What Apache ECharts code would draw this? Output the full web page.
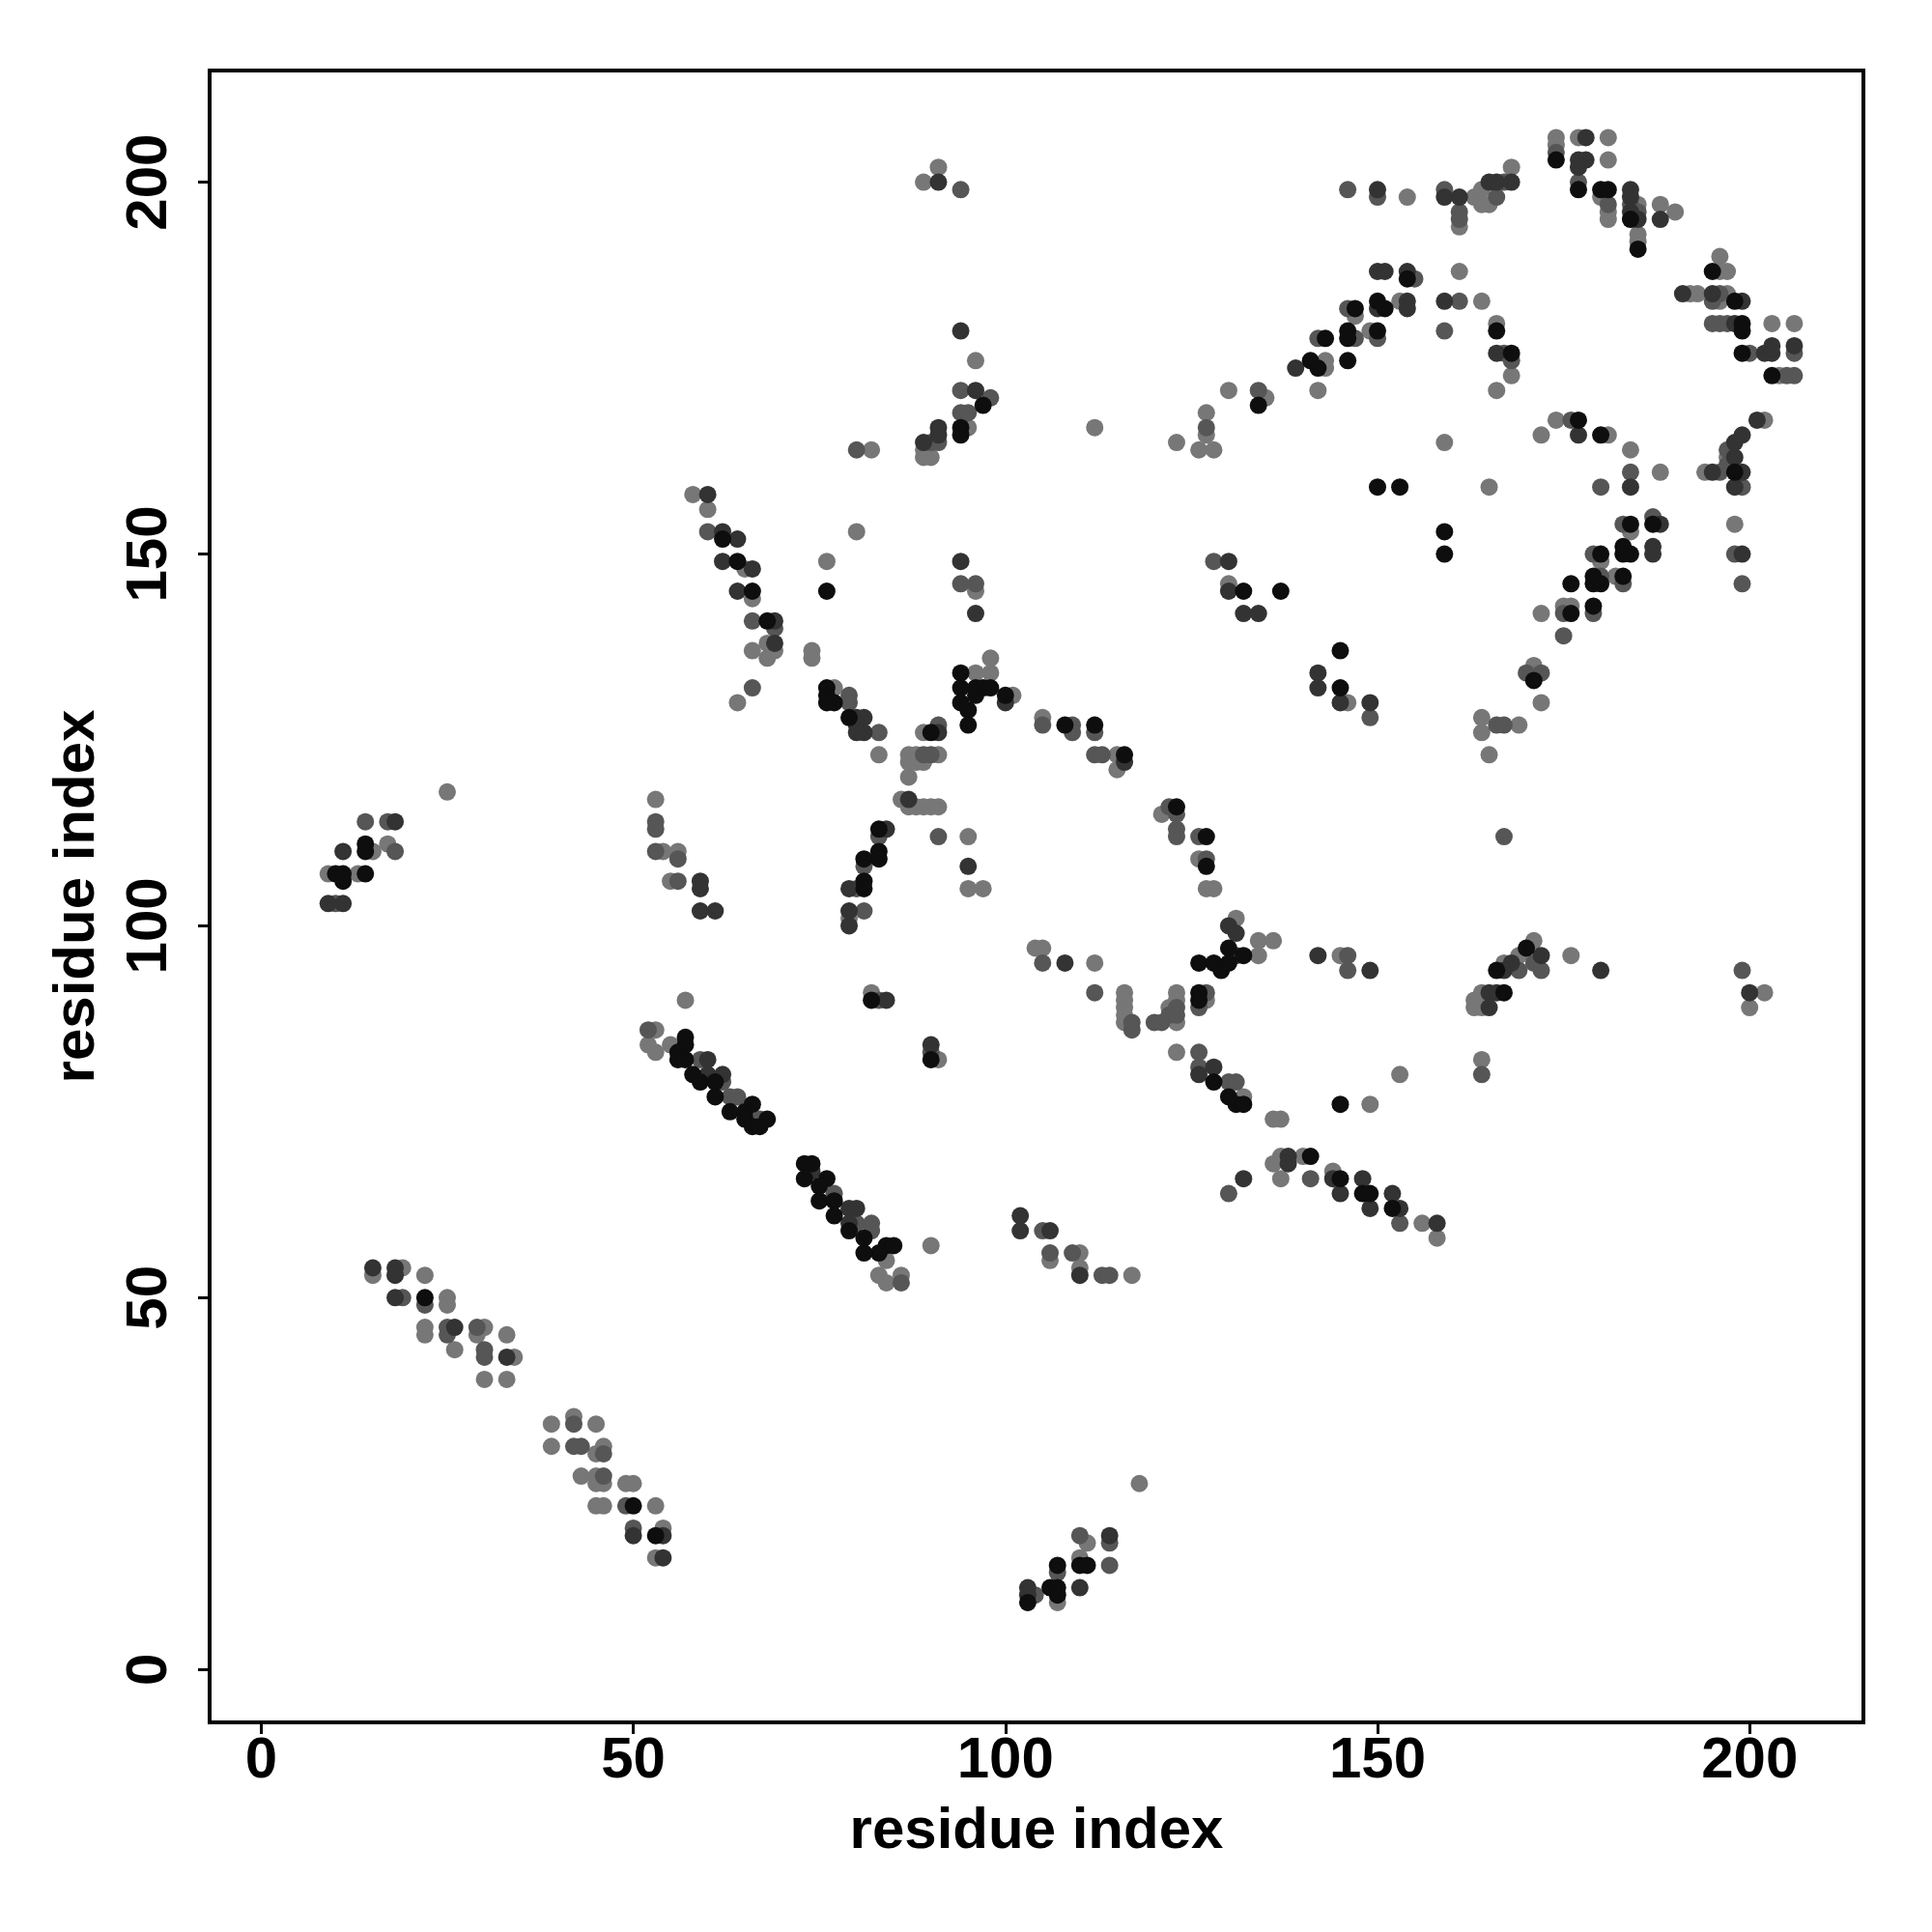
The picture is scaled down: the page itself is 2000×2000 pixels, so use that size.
<!DOCTYPE html>
<html><head><meta charset="utf-8">
<script src="https://cdn.jsdelivr.net/npm/echarts/dist/echarts.min.js"></script>
<style>html,body{margin:0;padding:0;background:#fff}#c{width:2000px;height:2000px}</style>
</head><body><div id="c"></div>
<script>
const xTicks=[0,50,100,150,200];
const yTicks=[0,50,100,150,200];

const lightPts=[
[89,200],[91,202],[96,176],[95,167],[89,164],[90,163],[89,163],[82,164],[112,167],[123,165],[127,169],[127,166],[126,164],[128,164],[130,172],[135,171],
[174,206],[174,205],[177,206],[181,206],[181,203],[180,198],[181,196],[181,195],[185,197],[185,193],[185,192],[188,197],[190,196],[154,198],[161,194],[163,198],[164,199],[168,202],[165,197],[164,197],[153,184],[147,182],[149,180],[143,176],[143,175],[142,172],[161,188],[164,184],[166,181],[168,174],[166,172],[196,190],[196,188],[197,188],[192,185],[193,185],[197,185],[196,184],[203,181],[206,181],[204,174],[174,168],[172,166],[181,166],[184,164],[188,161],[159,165],[202,168],[197,163],[194,161],
[165,159],[184,153],[180,149],[198,154],[182,147],[175,143],[176,143],[172,142],[146,130],[171,135],[172,130],[164,128],[164,126],[169,127],[165,123],
[80,153],[76,149],[96,145],[130,146],[68,138],[69,137],[68,136],[74,137],[74,136],[77,132],[83,123],[87,123],[88,123],[91,123],[87,122],[88,122],[89,122],[87,120],[89,126],[86,117],[88,116],[89,116],[90,116],[91,116],[87,116],[95,112],[95,105],[97,105],[96,134],[98,136],[98,134],[101,131],[105,128],[115,123],[115,121],[121,115],[126,109],[127,105],[128,105],
[58,158],[60,156],[65,148],[66,144],[66,137],[64,130],[25,118],[53,117],[54,110],[56,110],[55,106],[15,110],[17,111],[9,107],[13,107],
[57,90],[53,86],[52,84],[53,83],[55,84],[15,53],[19,54],[22,53],[25,50],[25,49],
[22,46],[22,45],[26,43],[30,46],[29,45],[34,42],[33,45],[30,39],[33,39],[39,33],[42,34],[45,33],[39,30],[45,29],[46,30],[43,26],[45,26],[45,25],[46,25],[49,25],[50,25],[45,22],[46,22],[53,22],[54,19],[53,15],
[118,25],[111,17],[110,15],[107,9],
[79,101],[82,91],[91,82],[104,97],[105,97],[112,95],[116,91],[116,90],[116,89],[116,88],[116,87],[122,89],[123,91],[123,90],[123,87],[127,90],[123,83],[132,77],[136,74],[137,74],[131,101],[134,98],[136,98],[134,96],[136,68],[137,69],[137,66],[140,69],[106,55],[110,56],[110,54],[117,53],[90,57],[84,55],[83,53],[84,52],[86,53],
[145,96],[153,80],[149,76],[163,90],[163,89],[164,91],[164,89],[167,95],[169,96],[171,98],[176,96],[164,82],[202,91],[200,89],[144,67],[156,60],[158,58]
];

const midPts=[
[94,199],[94,172],[98,171],[94,169],[95,169],[90,165],[91,165],[80,164],[127,167],[134,172],
[174,204],[177,200],[181,197],[184,197],[185,196],[146,199],[150,198],[159,199],[161,196],[161,195],[167,200],[166,198],[155,187],[146,183],[147,179],[150,179],[142,179],[161,184],[159,180],[167,177],[168,176],[196,185],[195,184],[195,181],[196,181],[197,181],[200,177],[206,177],[205,174],[206,174],[176,168],[184,161],[197,164],[197,162],[196,161],
[180,159],[199,159],[183,154],[187,155],[179,150],[198,150],[199,146],[180,147],[183,146],[175,142],[179,142],[175,139],[149,128],[170,134],[172,134],[166,127],[167,127],[167,112],
[94,146],[96,146],[128,149],[69,140],[79,131],[79,130],[83,126],[89,123],[90,123],[91,127],[91,112],[83,112],[81,108],[80,105],[105,127],[109,127],[109,126],[112,126],[112,123],[113,123],[122,116],[123,115],[123,113],[123,112],[126,112],[127,109],
[60,153],[66,141],[66,132],[53,114],[53,113],[53,110],[56,109],[56,106],[14,114],[17,114],[18,110],
[10,103],[52,86],[59,82],[62,79],[63,77],[64,77],[67,74],[19,50],[22,49],
[25,46],[25,45],[29,46],[30,43],[30,42],[42,33],[42,30],[43,30],[46,29],[46,26],[49,22],[50,19],
[110,18],[114,17],[114,14],[107,13],[104,10],
[81,102],[83,90],[90,83],[105,95],[112,91],[117,87],[117,86],[120,87],[121,87],[122,88],[123,89],[123,88],[127,91],[126,89],[126,83],[126,81],[130,79],[131,79],[130,64],[141,66],[105,59],[106,56],[109,56],[113,53],[114,53],[77,64],[80,60],[82,60],[82,59],[86,52],
[146,96],[146,94],[164,80],[169,94],[171,95],[172,94],[199,94],[153,60]
];

const darkPts=[
[91,200],[94,180],[96,172],[91,167],[91,166],[89,165],[139,175],
[178,206],[177,203],[178,203],[177,202],[184,199],[184,198],[184,196],[185,195],[188,195],[150,199],[159,198],[161,198],[165,200],[166,200],[168,200],[150,188],[151,188],[154,188],[150,183],[154,184],[154,183],[159,184],[166,177],[191,185],[195,185],[199,184],[198,181],[202,177],[203,178],[203,177],[206,178],[177,166],[201,168],[199,166],[198,165],[198,163],[195,161],[199,161],
[184,159],[198,159],[188,154],[187,151],[187,150],[199,150],[142,134],[142,132],[145,130],[149,130],
[94,149],[96,142],[130,149],[130,145],[132,142],[134,142],[69,141],[69,138],[80,128],[81,128],[80,127],[81,126],[80,126],[91,126],[87,117],[95,108],[84,113],[79,105],[100,130],[116,122],
[60,158],[62,153],[64,152],[62,149],[66,148],[64,145],[59,106],[59,105],[18,114],[11,110],
[9,103],[11,103],[59,102],[61,102],[60,82],[60,80],[62,80],[15,54],[18,54],[18,53],[18,50],
[26,46],[33,42],[50,18],[54,18],[54,15],
[114,18],[110,11],[103,11],[103,10],
[79,102],[79,100],[84,90],[90,84],[108,95],[126,80],[128,81],[130,100],[131,99],[131,96],[132,66],[138,69],[138,68],[102,61],[102,59],[106,59],[110,53],[74,67],[79,62],[80,62],[79,60],
[142,96],[149,94],[165,91],[166,91],[165,89],[167,94],[168,95],[172,96],[180,94],[200,91],[144,66],[145,64],[148,66],[149,62],[152,64],[153,62],[158,60]
];

const blackPts=[
[97,170],[94,167],[94,166],[134,170],
[174,203],[177,199],[180,199],[181,199],[184,195],[185,191],[154,187],[150,184],[151,183],[147,183],[146,180],[146,179],[150,180],[143,179],[146,176],[142,175],[141,176],[166,180],[168,177],[195,188],[198,184],[199,181],[199,180],[199,177],[203,174],[177,168],[180,166],[198,161],
[150,159],[153,159],[159,153],[159,150],[184,154],[187,154],[180,150],[183,151],[183,150],[184,150],[176,146],[179,147],[179,146],[180,146],[183,147],[176,142],[179,143],[145,137],[145,132],[171,133],
[76,145],[132,145],[137,145],[68,141],[76,132],[76,131],[76,130],[77,130],[79,128],[90,126],[83,113],[83,110],[83,109],[81,109],[81,106],[81,105],[94,134],[94,132],[94,130],[95,129],[95,127],[96,132],[97,132],[98,132],[96,131],[100,131],[108,127],[112,127],[116,123],[123,116],[127,112],[127,108],
[62,152],[64,149],[66,145],[14,111],[14,110],[10,107],[11,107],[11,106],[14,107],
[57,85],[57,84],[56,83],[56,82],[57,82],[58,80],[59,79],[61,79],[61,77],[63,75],[65,75],[66,76],[65,74],[66,73],[22,50],
[50,22],[53,18],
[110,14],[111,14],[107,14],[103,9],[106,11],[107,11],[107,10],
[82,90],[90,82],[126,91],[126,90],[128,79],[130,77],[131,76],[132,76],[130,97],[132,96],[126,95],[128,95],[129,94],[130,95],[141,69],[68,74],[67,73],[74,68],[73,68],[73,66],[76,66],[75,65],[75,63],[77,63],[77,61],[79,59],[81,58],[84,57],[85,57],[83,56],[81,56],
[145,76],[167,91],[166,94],[170,97],[145,66],[148,64],[149,64],[152,62]
];

const FONT='"Liberation Sans", Arial, Helvetica, sans-serif';
const chart=echarts.init(document.getElementById('c'),null,{renderer:'canvas'});
function mk(data,color){return {type:'scatter',data:data,symbol:'circle',symbolSize:18,itemStyle:{color:color,opacity:1},emphasis:{disabled:true},silent:true};}
const axisCommon=(ticks,rot)=>({
  type:'value',
  axisLine:{show:false,onZero:false},
  splitLine:{show:false},
  axisTick:{show:true,inside:false,length:12,customValues:ticks,lineStyle:{color:'#000',width:3}},
  axisLabel:{customValues:ticks,rotate:rot,fontSize:60,fontWeight:'bold',color:'#000',fontFamily:FONT},
  nameLocation:'middle',
  nameTextStyle:{fontSize:60,fontWeight:'bold',color:'#000',fontFamily:FONT}
});
const xa=axisCommon(xTicks,0);
xa.min=-6.93; xa.max=215.29; xa.name='residue index'; xa.nameGap=83; xa.axisLabel.margin=10;
const ya=axisCommon(yTicks,90);
ya.min=-7.12; ya.max=215.02; ya.name='residue index'; ya.nameGap=107; ya.axisLabel.margin=32;
chart.setOption({
  animation:false,
  backgroundColor:'#fff',
  grid:{left:217,right:71,top:73,bottom:217,show:true,borderColor:'#000',borderWidth:4,backgroundColor:'transparent'},
  xAxis:xa,
  yAxis:ya,
  series:[mk(lightPts,'#777777'),mk(midPts,'#565656'),mk(darkPts,'#333333'),mk(blackPts,'#0e0e0e')]
});
</script></body></html>
